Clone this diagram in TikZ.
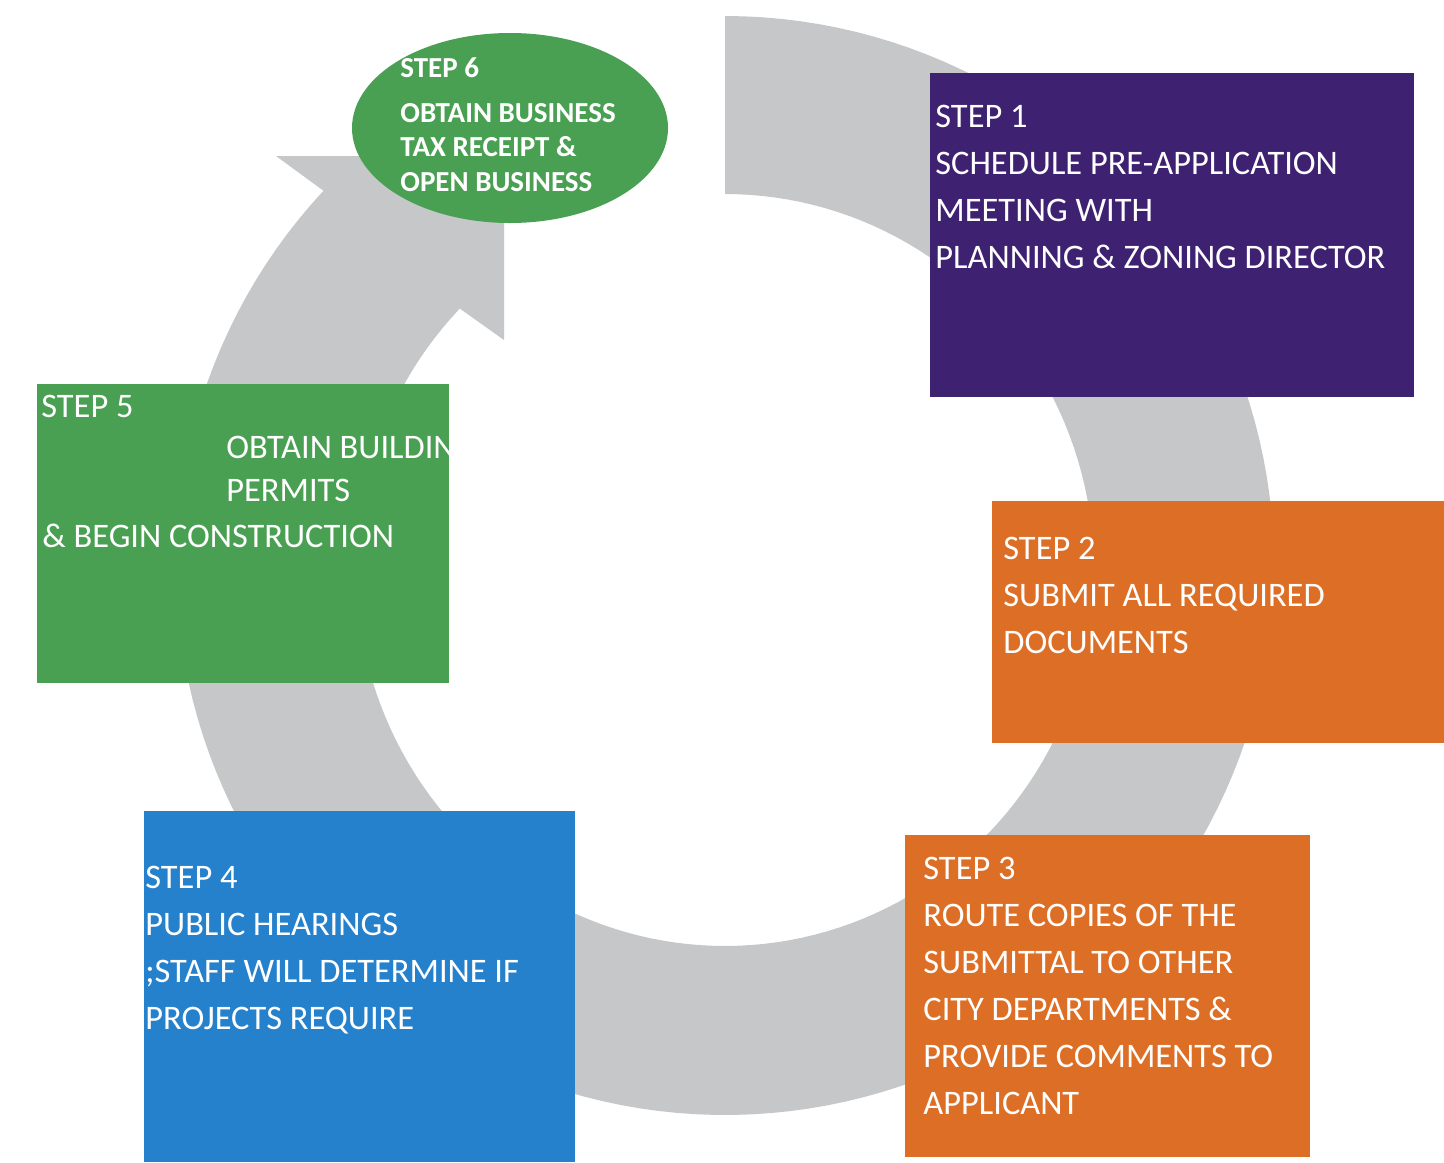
\documentclass[tikz,border=0pt]{standalone}
\usepackage{fontspec}
\setmainfont{Carlito}
\usetikzlibrary{shapes.geometric}
\definecolor{ringgrey}{HTML}{C6C7C9}
\definecolor{steppurple}{HTML}{3E2171}
\definecolor{stepgreen}{HTML}{4AA052}
\definecolor{steporange}{HTML}{DD6E25}
\definecolor{stepblue}{HTML}{2681CD}
\tikzset{
  stepbox/.style={rectangle, draw=none, inner sep=0pt, anchor=north west},
  steptext/.style={text=white, inner sep=0pt, anchor=base west, align=left,
    font=\fontsize{17.2pt}{23.5pt}\selectfont},
  ovaltext/.style={text=white, inner sep=0pt, anchor=base west, align=left,
    font=\fontsize{14.5pt}{17.25pt}\selectfont\bfseries},
}
\begin{document}
\begin{tikzpicture}[x=0.5pt,y=-0.5pt]
\useasboundingbox (0,0) rectangle (1444,1162);
\fill[white] (0,0) rectangle (1444,1162);
% circular arrow
\fill[ringgrey]
  plot[domain=-90:223, samples=160] ({725+549*cos(\x)},{565.5+549.5*sin(\x)})
  -- (276,156) -- (504,156) -- (504,340) -- (459,308)
  -- plot[domain=224:-90, samples=160] ({725+369*cos(\x)},{570+376*sin(\x)})
  -- cycle;
% boxes
\node[stepbox, fill=steppurple, minimum width=242pt, minimum height=162pt] (s1) at (930,73) {};
\node[stepbox, fill=steporange, minimum width=226pt, minimum height=121pt] (s2) at (992,501) {};
\node[stepbox, fill=steporange, minimum width=202.5pt, minimum height=161pt] (s3) at (905,835) {};
\node[stepbox, fill=stepblue, minimum width=215.5pt, minimum height=175.5pt] (s4) at (144,811) {};
\node[stepbox, fill=stepgreen, minimum width=206pt, minimum height=149.5pt] (s5) at (37,384) {};
\node[ellipse, fill=stepgreen, inner sep=0pt, minimum width=158pt, minimum height=95pt] (s6) at (510,128) {};
% texts (anchored at the baseline of the last line)
\node[steptext] (t1) at (935,268) {STEP 1\\SCHEDULE PRE-APPLICATION\\MEETING WITH\\PLANNING \& ZONING DIRECTOR};
\node[steptext] (t2) at (1003,653) {STEP 2\\SUBMIT ALL REQUIRED\\DOCUMENTS};
\node[steptext] (t3) at (923,1114) {STEP 3\\ROUTE COPIES OF THE\\SUBMITTAL TO OTHER\\CITY DEPARTMENTS \&\\PROVIDE COMMENTS TO\\APPLICANT};
\node[steptext] (t4) at (145,1029) {STEP 4\\PUBLIC HEARINGS\\;STAFF WILL DETERMINE IF\\PROJECTS REQUIRE};
\begin{scope}
\clip (37,384) rectangle (449,683);
\node[steptext] (t5a) at (41,417) {STEP 5};
\node[steptext, font=\fontsize{17.2pt}{21.5pt}\selectfont] (t5b) at (226,501) {OBTAIN BUILDING\\PERMITS};
\node[steptext] (t5c) at (42,547) {\& BEGIN CONSTRUCTION};
\end{scope}
\node[ovaltext] (t6a) at (400,77) {STEP 6};
\node[ovaltext] (t6b) at (400,191) {OBTAIN BUSINESS\\TAX RECEIPT \&\\OPEN BUSINESS};
\end{tikzpicture}
\end{document}
